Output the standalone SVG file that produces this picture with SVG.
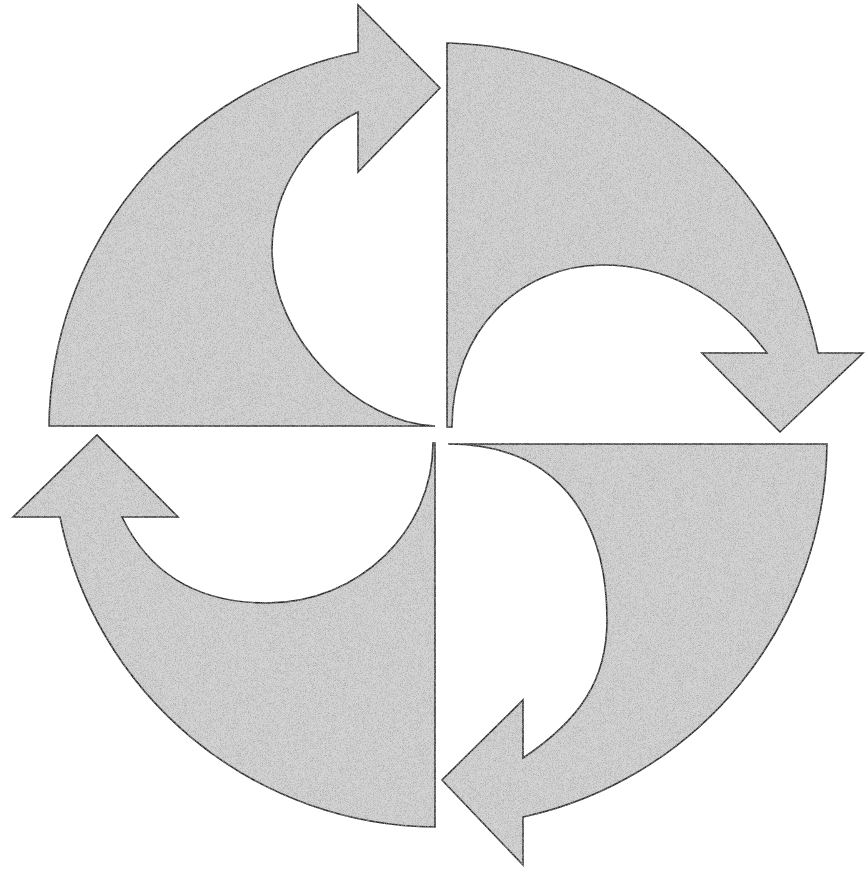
<svg xmlns="http://www.w3.org/2000/svg" width="865" height="870" viewBox="0 0 865 870">
<style>
.arrow{fill:#d4d4d4;stroke:#2a2a2a;stroke-width:1.6;stroke-linejoin:miter}
.tex{filter:url(#stipple)}
</style>
<defs>
<filter id="stipple" x="0" y="0" width="865" height="870" filterUnits="userSpaceOnUse">
<feTurbulence type="fractalNoise" baseFrequency="1.4" numOctaves="1" seed="4" result="noise"/>
<feColorMatrix in="noise" type="matrix" values="0 0 0 0 0.35  0 0 0 0 0.35  0 0 0 0 0.35  2.2 0 0 0 -0.95" result="dots"/>
<feComposite in="dots" in2="SourceGraphic" operator="in" result="clipped"/>
<feMerge><feMergeNode in="SourceGraphic"/><feMergeNode in="clipped"/></feMerge>
</filter>
</defs>
<rect width="865" height="870" fill="#ffffff"/>
<g class="tex">
<g id="arrow-top-left">
<path class="arrow" d="M49,426 L435,426 C360,424 272,340 272,250 C272,190 310,135 358,112 L358,172 L440,88 L358,5 L358,52 A386,386 0 0 0 49,426 Z"/>
</g>
<g id="arrow-top-right">
<path class="arrow" d="M447,43 A386,386 0 0 1 818,353 L863,353 L780,432 L702,353 L767,353 C720,290 660,265 603,265 C520,265 452,330 452,427 L447,427 Z"/>
</g>
<g id="arrow-bottom-right">
<path class="arrow" d="M448,444 L827,444 A386,386 0 0 1 523,817 L523,865 L442,780 L523,700 L523,758 C580,720 607,680 607,620 C607,515 555,444 448,444 Z"/>
</g>
<g id="arrow-bottom-left">
<path class="arrow" d="M435,443 L435,827 A386,386 0 0 1 60,517 L13,517 L97,435 L178,517 L122,517 C150,575 200,603 267,603 C360,603 433,530 433,443 Z"/>
</g>
</g>
</svg>
